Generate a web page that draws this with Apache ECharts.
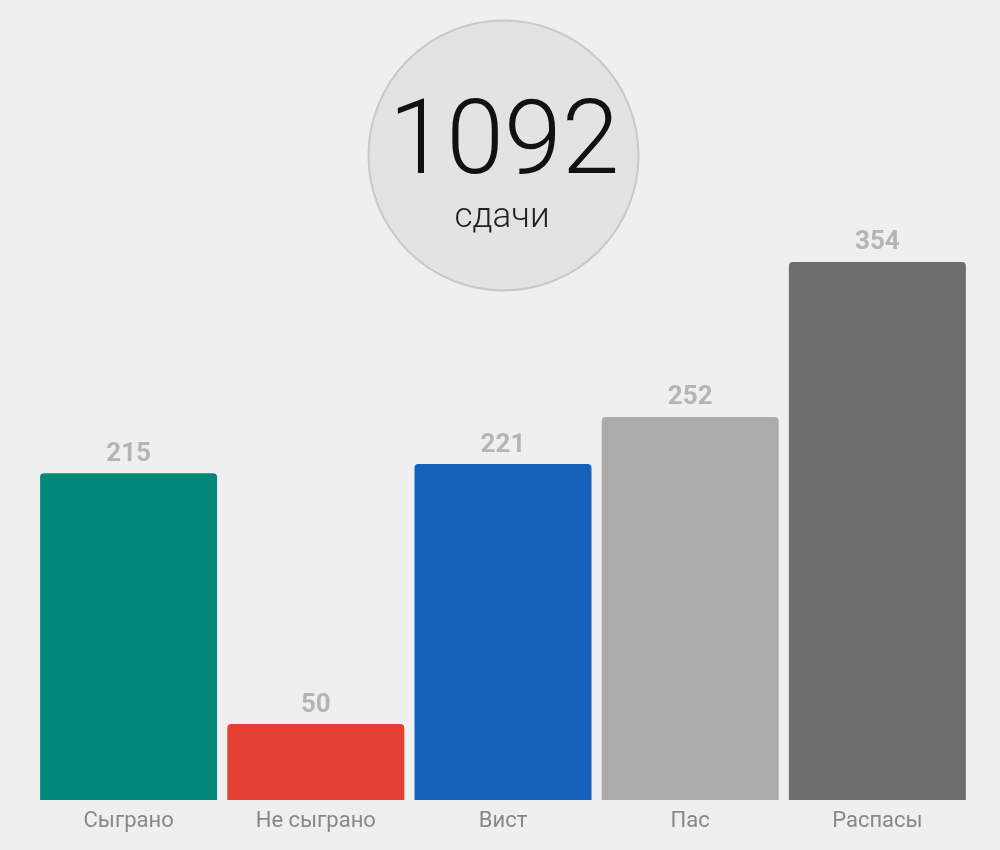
<!DOCTYPE html>
<html>
<head>
<meta charset="utf-8">
<script src="https://cdn.jsdelivr.net/npm/echarts@6/dist/echarts.min.js"></script>
<style>
html,body{margin:0;padding:0;background:#efefef;}
#chart{width:1000px;height:850px;}
</style>
</head>
<body>
<div id="chart"></div>
<script>
const categories = ['Сыграно', 'Не сыграно', 'Вист', 'Пас', 'Распасы'];
const values = [215, 50, 221, 252, 354];
const barColors = ['#00897b', '#e53f33', '#1560b8', '#ababab', '#6e6e6e'];
const totalValue = '1092';
const totalLabel = 'сдачи';

const chart = echarts.init(document.getElementById('chart'));
chart.setOption({
  backgroundColor: '#efefef',
  animation: false,
  grid: {left: 35, right: 29, top: 40, bottom: 50},
  xAxis: {
    type: 'category',
    data: categories,
    axisLine: {show: false},
    axisTick: {show: false},
    axisLabel: {color: '#888888', fontSize: 22, fontFamily: 'Roboto', margin: 10}
  },
  yAxis: {
    type: 'value',
    min: 0, max: 500,
    show: false,
    splitLine: {show: false}
  },
  series: [{
    type: 'bar',
    barWidth: 177,
    data: values.map((v, i) => ({value: v, itemStyle: {color: barColors[i]}})),
    itemStyle: {borderRadius: [4, 4, 0, 0]},
    label: {
      show: true,
      position: 'top',
      distance: 6,
      color: '#b5b5b5',
      fontSize: 26,
      fontWeight: 'bold',
      fontFamily: 'Roboto'
    }
  }],
  graphic: [
    {type: 'circle', shape: {cx: 503.5, cy: 155.5, r: 135}, style: {fill: '#e3e3e3', stroke: '#c9c9c9', lineWidth: 2}, z: 10},
    {type: 'text', x: 504, y: 147, z: 11, style: {text: totalValue, fontSize: 104, fontWeight: 300, fontFamily: 'Roboto', fill: '#111111', align: 'center', verticalAlign: 'middle'}},
    {type: 'text', x: 502, y: 218, z: 11, style: {text: totalLabel, fontSize: 35, fontWeight: 300, fontFamily: 'Roboto', fill: '#222222', align: 'center', verticalAlign: 'middle'}}
  ]
});
</script>
</body>
</html>
